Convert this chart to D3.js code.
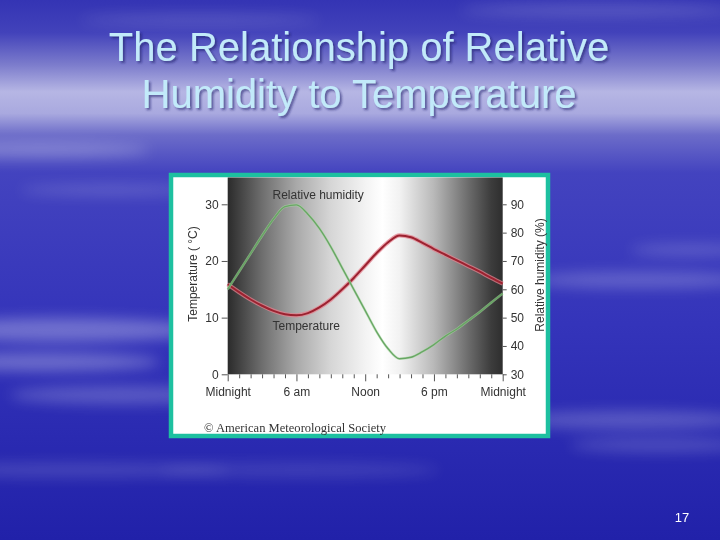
<!DOCTYPE html>
<html><head><meta charset="utf-8">
<script src="https://cdn.jsdelivr.net/npm/d3@7"></script>
<style>html,body{margin:0;padding:0;background:#2e2eb4;}svg{display:block;}</style>
</head><body>
<script>
// ---- data ----
const hours = [0,1,2,3,4,5,6,7,8,9,10,11,12,13,14,15,16,17,18,19,20,21,22,23,24];
const temperature = [15.9,14.5,13.2,12.1,11.2,10.6,10.4,10.8,11.8,13.2,15.0,17.0,19.2,21.4,23.3,24.5,24.2,23.2,22.1,21.1,20.1,19.1,18.1,17.0,16.0];
const humidity = [60,66.3,72.6,78.9,84.8,89.2,89.8,86.5,81.5,75.0,67.5,60.0,52.5,45.0,39.0,35.5,36.0,38.0,40.5,43.5,46.0,49.0,52.0,55.3,58.5];
const tempTicks = [0,10,20,30];
const rhTicks = [30,40,50,60,70,80,90];
const hourTicks = [0,1,2,3,4,5,6,7,8,9,10,11,12,13,14,15,16,17,18,19,20,21,22,23,24];
const majorHours = [0,6,12,18,24];
const majorLabels = ["Midnight","6 am","Noon","6 pm","Midnight"];
const shadeHours = [0,3,6,9,12,13.5,15,18,21,23,24];
const shadeColors = ["#2b2b2b","#6e6e6e","#a9a9a9","#d6d6d6","#f3f3f3","#ffffff","#f2f2f2","#b8b8b8","#6c6c6c","#3c3c3c","#2e2e2e"];
const titleLines = ["The Relationship of Relative","Humidity to Temperature"];

const W = 720, H = 540;
const svg = d3.select("body").append("svg").attr("width", W).attr("height", H);
const defs = svg.append("defs");

// slide background
const bg = defs.append("linearGradient").attr("id","bg").attr("x1",0).attr("y1",0).attr("x2",0).attr("y2",1);
[[0,"#3434b4"],[0.06,"#4242ba"],[0.12,"#7c7ccc"],[0.17,"#b6b6e4"],[0.21,"#a9a9df"],[0.25,"#6c6cc9"],[0.32,"#4343bf"],[0.6,"#3434ba"],[1,"#2121a9"]]
  .forEach(s => bg.append("stop").attr("offset", s[0]).attr("stop-color", s[1]));
svg.append("rect").attr("width",W).attr("height",H).attr("fill","url(#bg)");

const blur = defs.append("filter").attr("id","blur").attr("x","-50%").attr("y","-100%").attr("width","200%").attr("height","300%");
blur.append("feGaussianBlur").attr("stdDeviation", 7);
const wisps = [[40,150,110,7,0.25],[110,190,90,5,0.18],[60,330,140,12,0.3],[40,362,120,9,0.3],[120,395,110,9,0.22],[70,470,160,7,0.15],[640,280,110,8,0.22],[690,250,60,6,0.18],[630,420,120,9,0.22],[660,445,90,7,0.18],[300,470,140,7,0.12],[600,10,140,6,0.18],[200,20,120,5,0.15]];
svg.append("g").attr("filter","url(#blur)").selectAll("ellipse").data(wisps).join("ellipse")
  .attr("cx", d=>d[0]).attr("cy", d=>d[1]).attr("rx", d=>d[2]).attr("ry", d=>d[3])
  .attr("fill","#ffffff").attr("opacity", d=>d[4]);

// title with drop shadow
const sh = defs.append("filter").attr("id","tshadow").attr("x","-10%").attr("y","-30%").attr("width","120%").attr("height","160%");
sh.append("feDropShadow").attr("dx",2).attr("dy",2).attr("stdDeviation",0.8).attr("flood-color","#20206a").attr("flood-opacity",0.6);
const tg = svg.append("g").attr("font-family","Liberation Sans, Arial, sans-serif").attr("font-size",40).attr("text-anchor","middle").attr("filter","url(#tshadow)");
titleLines.forEach((t,i) => {
  tg.append("text").attr("x",359).attr("y",61+i*46.5).attr("fill","#c2eafa").text(t);
});

// page number
svg.append("text").attr("x",682).attr("y",522).attr("text-anchor","middle").attr("font-family","Liberation Sans, Arial, sans-serif").attr("font-size",13).attr("fill","#ffffff").text("17");

// frame
svg.append("rect").attr("x",171).attr("y",175).attr("width",377).attr("height",261).attr("fill","#ffffff").attr("stroke","#1dc0a0").attr("stroke-width",4.5);

// scales
const x = d3.scaleLinear().domain([0,24]).range([227.7,502.7]);
const yT = d3.scaleLinear().domain([0,30]).range([374.3,204.3]);
const yR = d3.scaleLinear().domain([30,90]).range([374.3,204.3]);

// shading
const sg = defs.append("linearGradient").attr("id","shade").attr("gradientUnits","userSpaceOnUse")
  .attr("x1", x(0)).attr("x2", x(24)).attr("y1",0).attr("y2",0);
shadeHours.forEach((h,i) => sg.append("stop").attr("offset",(x(h)-x(0))/(x(24)-x(0))).attr("stop-color",shadeColors[i]));
svg.append("rect").attr("x",x(0)).attr("y",177.5).attr("width",x(24)-x(0)).attr("height",yT(0)-177.5).attr("fill","url(#shade)");

// lines
const lineT = d3.line().x((d,i)=>x(hours[i])).y(d=>yT(d)).curve(d3.curveMonotoneX);
const lineR = d3.line().x((d,i)=>x(hours[i])).y(d=>yR(d)).curve(d3.curveMonotoneX);
svg.append("path").attr("d",lineT(temperature)).attr("fill","none").attr("stroke","#e4808e").attr("stroke-width",4.2).attr("opacity",0.75);
svg.append("path").attr("d",lineT(temperature)).attr("fill","none").attr("stroke","#9c2230").attr("stroke-width",2);
svg.append("path").attr("d",lineR(humidity)).attr("fill","none").attr("stroke","#a6d8a0").attr("stroke-width",2.6).attr("opacity",0.6);
svg.append("path").attr("d",lineR(humidity)).attr("fill","none").attr("stroke","#68a664").attr("stroke-width",1.4);

// axes
const font = "Liberation Sans, Arial, sans-serif";
function style(g){
  g.select(".domain").remove();
  g.selectAll(".tick line").attr("stroke","#555").attr("stroke-width",1);
  g.selectAll(".tick text").attr("fill","#333").attr("font-family",font).attr("font-size",12);
}
svg.append("g").attr("transform",`translate(${x(0)},0)`)
  .call(d3.axisLeft(yT).tickValues(tempTicks).tickSize(6).tickPadding(3)).call(style);
svg.append("g").attr("transform",`translate(${x(24)},0)`)
  .call(d3.axisRight(yR).tickValues(rhTicks).tickSize(4).tickPadding(4)).call(style);
const xa = svg.append("g").attr("transform",`translate(0,${yT(0)})`)
  .call(d3.axisBottom(x).tickValues(hourTicks).tickSize(4).tickFormat("")).call(style);
xa.selectAll(".tick line").attr("y2", d => majorHours.includes(d) ? 7 : 4);
svg.append("g").attr("transform",`translate(0,${yT(0)})`)
  .call(d3.axisBottom(x).tickValues(majorHours).tickSize(0).tickPadding(13).tickFormat((d,i)=>majorLabels[i])).call(style);

// axis titles
svg.append("text").attr("transform","translate(197,274) rotate(-90)").attr("text-anchor","middle")
  .attr("font-family",font).attr("font-size",12).attr("fill","#333").text("Temperature ( °C)");
svg.append("text").attr("transform","translate(544,275) rotate(-90)").attr("text-anchor","middle")
  .attr("font-family",font).attr("font-size",12).attr("fill","#333").text("Relative humidity (%)");

// series labels
svg.append("text").attr("x",272.5).attr("y",199).attr("font-family",font).attr("font-size",12).attr("fill","#333").text("Relative humidity");
svg.append("text").attr("x",272.5).attr("y",330).attr("font-family",font).attr("font-size",12).attr("fill","#333").text("Temperature");

// credit
svg.append("text").attr("x",204).attr("y",432).attr("font-family","Liberation Serif, Times New Roman, serif").attr("font-size",11.5)
  .attr("textLength",182).attr("lengthAdjust","spacingAndGlyphs").attr("fill","#333").text("© American Meteorological Society");
</script>
</body></html>
